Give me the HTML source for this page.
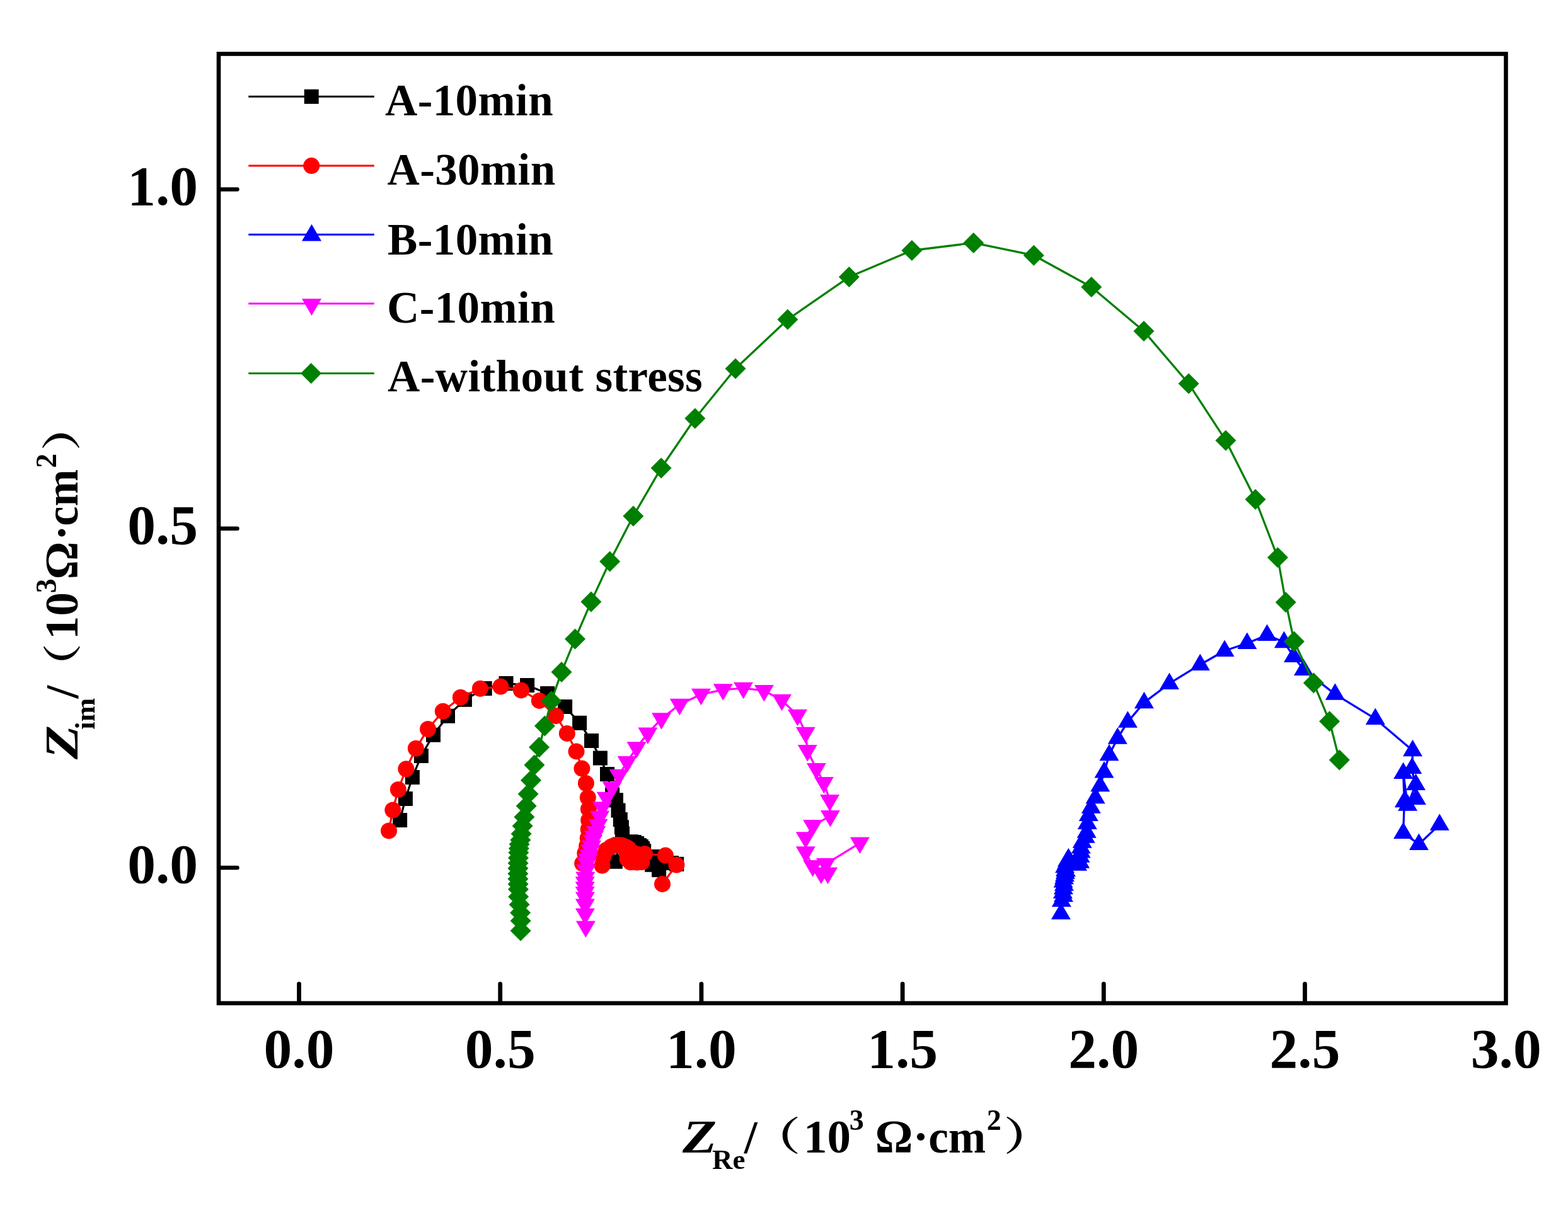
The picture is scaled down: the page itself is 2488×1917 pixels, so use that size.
<!DOCTYPE html>
<html><head><meta charset="utf-8"><title>Nyquist plot</title>
<style>
html,body{margin:0;padding:0;background:#fff;}
svg{display:block;}
text{font-family:"Liberation Serif","Noto Serif CJK SC",serif;font-weight:bold;fill:#000;}
.tk{font-size:89.5px;}
.lg{font-size:71px;letter-spacing:0.4px;}
.ti{font-size:75px;}
.sub{font-size:45px;}
.sup{font-size:46px;}
.cjk{font-family:"Noto Serif CJK SC",serif;font-weight:bold;}
</style></head>
<body>
<svg width="2488" height="1917" viewBox="0 0 2488 1917">
<rect width="2488" height="1917" fill="#fff"/>
<path d="M634.6 1301.5 L643.4 1267.5 L654.4 1233.4 L668.4 1199.5 L687.5 1166.2 L710.5 1136.2 L737.4 1110.3 L769.2 1092.5 L803 1084.6 L836.6 1087.4 L868.6 1100.4 L896.6 1121.5 L919.6 1147.3 L938.5 1175.5 L952.4 1203 L963.5 1228.4 L971.6 1261 L977.4 1269.7 L981 1286 L984.3 1300.6 L986.4 1312.8 L987.5 1323 L976.3 1367.3 L1001.3 1335.7 L1006.3 1336.4 L1010.6 1338.6 L1014.5 1341.4 L1017.3 1343.6 L1019.5 1346.4 L1021.6 1350.4 L1042 1359.6 L1065.5 1369.6 L1073.7 1371.3 L1045.6 1380.5 L1034.6 1372.3" fill="none" stroke="#000" stroke-width="3.2" stroke-linejoin="round"/>
<path d="M623.1 1290h23v23h-23zM631.9 1256h23v23h-23zM642.9 1221.9h23v23h-23zM656.9 1188h23v23h-23zM676 1154.7h23v23h-23zM699 1124.7h23v23h-23zM725.9 1098.8h23v23h-23zM757.7 1081h23v23h-23zM791.5 1073.1h23v23h-23zM825.1 1075.9h23v23h-23zM857.1 1088.9h23v23h-23zM885.1 1110h23v23h-23zM908.1 1135.8h23v23h-23zM927 1164h23v23h-23zM940.9 1191.5h23v23h-23zM952 1216.9h23v23h-23zM960.1 1249.5h23v23h-23zM965.9 1258.2h23v23h-23zM969.5 1274.5h23v23h-23zM972.8 1289.1h23v23h-23zM974.9 1301.3h23v23h-23zM976 1311.5h23v23h-23zM964.8 1355.8h23v23h-23zM989.8 1324.2h23v23h-23zM994.8 1324.9h23v23h-23zM999.1 1327.1h23v23h-23zM1003 1329.9h23v23h-23zM1005.8 1332.1h23v23h-23zM1008 1334.9h23v23h-23zM1010.1 1338.9h23v23h-23zM1030.5 1348.1h23v23h-23zM1054 1358.1h23v23h-23zM1062.2 1359.8h23v23h-23zM1034.1 1369h23v23h-23zM1023.1 1360.8h23v23h-23z" fill="#000"/>
<path d="M617 1318.4 L623.3 1285.5 L631.9 1253 L644.4 1220.3 L659.9 1187.8 L679 1157 L702.8 1128.7 L730.8 1106.8 L761.9 1092.8 L794.4 1089.5 L827 1095.4 L855.8 1111.9 L881.9 1136 L899.8 1163.9 L914.5 1192.4 L923.4 1219.6 L929.9 1243 L932.8 1265.7 L933.9 1283.9 L934.2 1301.8 L933.7 1316 L932.7 1330.3 L931.1 1342.7 L928.3 1354 L924.2 1370.2 L955.5 1373.5 L957 1360 L962 1349 L970 1343.5 L976 1341 L981 1341 L987 1341.5 L993 1344 L997.4 1346.6 L1004.9 1353.3 L994.6 1354 L995.6 1363.6 L1000.6 1368.2 L1003.9 1368 L1011 1368.5 L1018.5 1368 L1011 1355.5 L1023 1355 L1055.9 1357.6 L1073.4 1372.5 L1051 1402.9" fill="none" stroke="#f00" stroke-width="3.2" stroke-linejoin="round"/>
<g fill="#f00"><circle cx="617" cy="1318.4" r="13"/><circle cx="623.3" cy="1285.5" r="13"/><circle cx="631.9" cy="1253" r="13"/><circle cx="644.4" cy="1220.3" r="13"/><circle cx="659.9" cy="1187.8" r="13"/><circle cx="679" cy="1157" r="13"/><circle cx="702.8" cy="1128.7" r="13"/><circle cx="730.8" cy="1106.8" r="13"/><circle cx="761.9" cy="1092.8" r="13"/><circle cx="794.4" cy="1089.5" r="13"/><circle cx="827" cy="1095.4" r="13"/><circle cx="855.8" cy="1111.9" r="13"/><circle cx="881.9" cy="1136" r="13"/><circle cx="899.8" cy="1163.9" r="13"/><circle cx="914.5" cy="1192.4" r="13"/><circle cx="923.4" cy="1219.6" r="13"/><circle cx="929.9" cy="1243" r="13"/><circle cx="932.8" cy="1265.7" r="13"/><circle cx="933.9" cy="1283.9" r="13"/><circle cx="934.2" cy="1301.8" r="13"/><circle cx="933.7" cy="1316" r="13"/><circle cx="932.7" cy="1330.3" r="13"/><circle cx="931.1" cy="1342.7" r="13"/><circle cx="928.3" cy="1354" r="13"/><circle cx="924.2" cy="1370.2" r="13"/><circle cx="955.5" cy="1373.5" r="13"/><circle cx="957" cy="1360" r="13"/><circle cx="962" cy="1349" r="13"/><circle cx="970" cy="1343.5" r="13"/><circle cx="976" cy="1341" r="13"/><circle cx="981" cy="1341" r="13"/><circle cx="987" cy="1341.5" r="13"/><circle cx="993" cy="1344" r="13"/><circle cx="997.4" cy="1346.6" r="13"/><circle cx="1004.9" cy="1353.3" r="13"/><circle cx="994.6" cy="1354" r="13"/><circle cx="995.6" cy="1363.6" r="13"/><circle cx="1000.6" cy="1368.2" r="13"/><circle cx="1003.9" cy="1368" r="13"/><circle cx="1011" cy="1368.5" r="13"/><circle cx="1018.5" cy="1368" r="13"/><circle cx="1011" cy="1355.5" r="13"/><circle cx="1023" cy="1355" r="13"/><circle cx="1055.9" cy="1357.6" r="13"/><circle cx="1073.4" cy="1372.5" r="13"/><circle cx="1051" cy="1402.9" r="13"/></g>
<path d="M1683.4 1449.8 L1684.3 1429.8 L1687.5 1422 L1686.4 1416.6 L1687.4 1409.9 L1688.4 1404.5 L1687.1 1399.3 L1688.5 1394 L1689.4 1389.7 L1690.4 1385.6 L1691.4 1382.1 L1690.6 1381.1 L1689.5 1376 L1692.5 1370 L1693.5 1366 L1695.4 1363 L1709.6 1372.5 L1713.6 1368.4 L1714.1 1359.4 L1715.2 1352.3 L1715.2 1345.2 L1717.2 1336.6 L1722.2 1328.5 L1724.2 1320.5 L1725.3 1306.8 L1727.3 1293.7 L1731.3 1281.6 L1738.1 1265.9 L1745.7 1246.9 L1752 1225.3 L1760 1198.1 L1773.3 1171.5 L1789.4 1145.6 L1815.4 1114.9 L1855.5 1084.7 L1904.3 1054.7 L1943.1 1032.7 L1978.8 1020.8 L2010.5 1007.9 L2037.4 1018.9 L2052.5 1041.7 L2068.5 1062.8 L2118.4 1101.6 L2182.3 1140.7 L2241.5 1191 L2240.7 1218.7 L2247.4 1267.7 L2246.5 1244.7 L2233.6 1277.6 L2226.6 1226.7 L2228.3 1272 L2226.6 1321.8 L2251.4 1339.7 L2284.2 1308.6" fill="none" stroke="#00f" stroke-width="3.3" stroke-linejoin="round"/>
<path d="M1683.4 1432.5L1698.9 1459L1667.9 1459zM1684.3 1412.5L1699.8 1439L1668.8 1439zM1687.5 1404.8L1703 1431.2L1672 1431.2zM1686.4 1399.3L1701.9 1425.8L1670.9 1425.8zM1687.4 1392.7L1702.9 1419.2L1671.9 1419.2zM1688.4 1387.2L1703.9 1413.8L1672.9 1413.8zM1687.1 1382L1702.6 1408.5L1671.6 1408.5zM1688.5 1376.8L1704 1403.2L1673 1403.2zM1689.4 1372.5L1704.9 1399L1673.9 1399zM1690.4 1368.3L1705.9 1394.8L1674.9 1394.8zM1691.4 1364.8L1706.9 1391.3L1675.9 1391.3zM1690.6 1363.8L1706.1 1390.3L1675.1 1390.3zM1689.5 1358.8L1705 1385.2L1674 1385.2zM1692.5 1352.8L1708 1379.2L1677 1379.2zM1693.5 1348.8L1709 1375.2L1678 1375.2zM1695.4 1345.8L1710.9 1372.2L1679.9 1372.2zM1709.6 1355.2L1725.1 1381.8L1694.1 1381.8zM1713.6 1351.2L1729.1 1377.7L1698.1 1377.7zM1714.1 1342.2L1729.6 1368.7L1698.6 1368.7zM1715.2 1335L1730.7 1361.5L1699.7 1361.5zM1715.2 1328L1730.7 1354.5L1699.7 1354.5zM1717.2 1319.3L1732.7 1345.8L1701.7 1345.8zM1722.2 1311.2L1737.7 1337.8L1706.7 1337.8zM1724.2 1303.2L1739.7 1329.8L1708.7 1329.8zM1725.3 1289.5L1740.8 1316L1709.8 1316zM1727.3 1276.5L1742.8 1303L1711.8 1303zM1731.3 1264.3L1746.8 1290.8L1715.8 1290.8zM1738.1 1248.7L1753.6 1275.2L1722.6 1275.2zM1745.7 1229.7L1761.2 1256.2L1730.2 1256.2zM1752 1208L1767.5 1234.5L1736.5 1234.5zM1760 1180.8L1775.5 1207.3L1744.5 1207.3zM1773.3 1154.2L1788.8 1180.8L1757.8 1180.8zM1789.4 1128.3L1804.9 1154.8L1773.9 1154.8zM1815.4 1097.7L1830.9 1124.2L1799.9 1124.2zM1855.5 1067.5L1871 1094L1840 1094zM1904.3 1037.5L1919.8 1064L1888.8 1064zM1943.1 1015.5L1958.6 1042L1927.6 1042zM1978.8 1003.5L1994.3 1030L1963.3 1030zM2010.5 990.6L2026 1017.1L1995 1017.1zM2037.4 1001.6L2052.9 1028.2L2021.9 1028.2zM2052.5 1024.5L2068 1051L2037 1051zM2068.5 1045.5L2084 1072L2053 1072zM2118.4 1084.3L2133.9 1110.8L2102.9 1110.8zM2182.3 1123.5L2197.8 1150L2166.8 1150zM2241.5 1173.8L2257 1200.2L2226 1200.2zM2240.7 1201.5L2256.2 1228L2225.2 1228zM2247.4 1250.5L2262.9 1277L2231.9 1277zM2246.5 1227.5L2262 1254L2231 1254zM2233.6 1260.3L2249.1 1286.8L2218.1 1286.8zM2226.6 1209.5L2242.1 1236L2211.1 1236zM2228.3 1254.8L2243.8 1281.2L2212.8 1281.2zM2226.6 1304.5L2242.1 1331L2211.1 1331zM2251.4 1322.5L2266.9 1349L2235.9 1349zM2284.2 1291.3L2299.7 1317.8L2268.7 1317.8z" fill="#00f"/>
<path d="M929.4 1470.7 L928.4 1450.8 L928.4 1435.8 L928.4 1424.7 L928.2 1416.3 L928.2 1408.4 L928.2 1400.6 L928.8 1392.7 L930.1 1381 L931.5 1370.5 L933 1364 L934.7 1357.4 L936.7 1349.6 L938.6 1343 L940.6 1333.9 L942.6 1327.4 L945.8 1320.2 L949.1 1309 L951.7 1296 L955.6 1281.6 L962.2 1265.9 L971.3 1249.7 L982.1 1229.9 L995.2 1209.2 L1010 1186.4 L1027.9 1163.8 L1049.5 1140.5 L1078.3 1118 L1112.4 1102 L1147.3 1094.6 L1179.5 1092 L1212.4 1096.2 L1240.5 1111.1 L1265.4 1135.1 L1278.3 1163.1 L1281.2 1191.2 L1295.4 1220.3 L1307.4 1242.2 L1316.6 1270.2 L1317.4 1295.2 L1289.6 1310.2 L1278.3 1329.5 L1278.3 1352.4 L1289.6 1374.2 L1302.9 1385.7 L1313.5 1385.7 L1310.4 1371.1 L1364.4 1337.8" fill="none" stroke="#f0f" stroke-width="3.2" stroke-linejoin="round"/>
<path d="M913.9 1461.5L944.9 1461.5L929.4 1488zM912.9 1441.5L943.9 1441.5L928.4 1468zM912.9 1426.5L943.9 1426.5L928.4 1453zM912.9 1415.5L943.9 1415.5L928.4 1442zM912.7 1407L943.7 1407L928.2 1433.5zM912.7 1399.2L943.7 1399.2L928.2 1425.7zM912.7 1391.3L943.7 1391.3L928.2 1417.8zM913.3 1383.5L944.3 1383.5L928.8 1410zM914.6 1371.8L945.6 1371.8L930.1 1398.2zM916 1361.2L947 1361.2L931.5 1387.8zM917.5 1354.8L948.5 1354.8L933 1381.2zM919.2 1348.2L950.2 1348.2L934.7 1374.7zM921.2 1340.3L952.2 1340.3L936.7 1366.8zM923.1 1333.8L954.1 1333.8L938.6 1360.2zM925.1 1324.7L956.1 1324.7L940.6 1351.2zM927.1 1318.2L958.1 1318.2L942.6 1344.7zM930.3 1311L961.3 1311L945.8 1337.5zM933.6 1299.8L964.6 1299.8L949.1 1326.2zM936.2 1286.8L967.2 1286.8L951.7 1313.2zM940.1 1272.3L971.1 1272.3L955.6 1298.8zM946.7 1256.7L977.7 1256.7L962.2 1283.2zM955.8 1240.5L986.8 1240.5L971.3 1267zM966.6 1220.7L997.6 1220.7L982.1 1247.2zM979.7 1200L1010.7 1200L995.2 1226.5zM994.5 1177.2L1025.5 1177.2L1010 1203.7zM1012.4 1154.5L1043.4 1154.5L1027.9 1181zM1034 1131.2L1065 1131.2L1049.5 1157.8zM1062.8 1108.8L1093.8 1108.8L1078.3 1135.2zM1096.9 1092.8L1127.9 1092.8L1112.4 1119.2zM1131.8 1085.3L1162.8 1085.3L1147.3 1111.8zM1164 1082.8L1195 1082.8L1179.5 1109.2zM1196.9 1087L1227.9 1087L1212.4 1113.5zM1225 1101.8L1256 1101.8L1240.5 1128.3zM1249.9 1125.8L1280.9 1125.8L1265.4 1152.3zM1262.8 1153.8L1293.8 1153.8L1278.3 1180.3zM1265.7 1182L1296.7 1182L1281.2 1208.5zM1279.9 1211L1310.9 1211L1295.4 1237.5zM1291.9 1233L1322.9 1233L1307.4 1259.5zM1301.1 1261L1332.1 1261L1316.6 1287.5zM1301.9 1286L1332.9 1286L1317.4 1312.5zM1274.1 1301L1305.1 1301L1289.6 1327.5zM1262.8 1320.2L1293.8 1320.2L1278.3 1346.8zM1262.8 1343.2L1293.8 1343.2L1278.3 1369.7zM1274.1 1365L1305.1 1365L1289.6 1391.5zM1287.4 1376.5L1318.4 1376.5L1302.9 1403zM1298 1376.5L1329 1376.5L1313.5 1403zM1294.9 1361.8L1325.9 1361.8L1310.4 1388.3zM1348.9 1328.5L1379.9 1328.5L1364.4 1355z" fill="#f0f"/>
<path d="M826.1 1477.1 L826.1 1461.3 L825.6 1448.5 L824.1 1435.5 L822.6 1423 L822.4 1411.3 L822.1 1403 L821.9 1394.7 L821.9 1386.4 L821.9 1378.1 L822.1 1369.8 L822.4 1361.4 L822.8 1353.1 L823.3 1346.5 L824.1 1339.8 L825.8 1333.1 L827.1 1323.2 L829.1 1310.7 L831.9 1296.5 L835.1 1279.1 L838.1 1259.9 L842.5 1238.3 L847.9 1214 L855.5 1185.7 L864.4 1151.9 L874.8 1112.5 L891 1066.4 L912.5 1014.1 L937.9 955.1 L967.6 891 L1004.8 819.1 L1049.1 742.7 L1102.8 664 L1167 585 L1249.8 507 L1347.3 439.6 L1446.9 397.5 L1544.7 385.4 L1640.3 405.2 L1731.8 455.5 L1815 525.6 L1886.1 608.8 L1944.9 698.9 L1992 792.5 L2027.4 884.7 L2040.2 955.8 L2053.4 1017.9 L2084.3 1083.8 L2109.6 1144.7 L2125.3 1206.1" fill="none" stroke="#008000" stroke-width="3.3" stroke-linejoin="round"/>
<path d="M826.1 1460.6L842.6 1477.1L826.1 1493.6L809.6 1477.1zM826.1 1444.8L842.6 1461.3L826.1 1477.8L809.6 1461.3zM825.6 1432L842.1 1448.5L825.6 1465L809.1 1448.5zM824.1 1419L840.6 1435.5L824.1 1452L807.6 1435.5zM822.6 1406.5L839.1 1423L822.6 1439.5L806.1 1423zM822.4 1394.8L838.9 1411.3L822.4 1427.8L805.9 1411.3zM822.1 1386.5L838.6 1403L822.1 1419.5L805.6 1403zM821.9 1378.2L838.4 1394.7L821.9 1411.2L805.4 1394.7zM821.9 1369.9L838.4 1386.4L821.9 1402.9L805.4 1386.4zM821.9 1361.6L838.4 1378.1L821.9 1394.6L805.4 1378.1zM822.1 1353.3L838.6 1369.8L822.1 1386.3L805.6 1369.8zM822.4 1344.9L838.9 1361.4L822.4 1377.9L805.9 1361.4zM822.8 1336.6L839.3 1353.1L822.8 1369.6L806.3 1353.1zM823.3 1330L839.8 1346.5L823.3 1363L806.8 1346.5zM824.1 1323.3L840.6 1339.8L824.1 1356.3L807.6 1339.8zM825.8 1316.6L842.3 1333.1L825.8 1349.6L809.3 1333.1zM827.1 1306.7L843.6 1323.2L827.1 1339.7L810.6 1323.2zM829.1 1294.2L845.6 1310.7L829.1 1327.2L812.6 1310.7zM831.9 1280L848.4 1296.5L831.9 1313L815.4 1296.5zM835.1 1262.6L851.6 1279.1L835.1 1295.6L818.6 1279.1zM838.1 1243.4L854.6 1259.9L838.1 1276.4L821.6 1259.9zM842.5 1221.8L859 1238.3L842.5 1254.8L826 1238.3zM847.9 1197.5L864.4 1214L847.9 1230.5L831.4 1214zM855.5 1169.2L872 1185.7L855.5 1202.2L839 1185.7zM864.4 1135.4L880.9 1151.9L864.4 1168.4L847.9 1151.9zM874.8 1096L891.3 1112.5L874.8 1129L858.3 1112.5zM891 1049.9L907.5 1066.4L891 1082.9L874.5 1066.4zM912.5 997.6L929 1014.1L912.5 1030.6L896 1014.1zM937.9 938.6L954.4 955.1L937.9 971.6L921.4 955.1zM967.6 874.5L984.1 891L967.6 907.5L951.1 891zM1004.8 802.6L1021.3 819.1L1004.8 835.6L988.3 819.1zM1049.1 726.2L1065.6 742.7L1049.1 759.2L1032.6 742.7zM1102.8 647.5L1119.3 664L1102.8 680.5L1086.3 664zM1167 568.5L1183.5 585L1167 601.5L1150.5 585zM1249.8 490.5L1266.3 507L1249.8 523.5L1233.3 507zM1347.3 423.1L1363.8 439.6L1347.3 456.1L1330.8 439.6zM1446.9 381L1463.4 397.5L1446.9 414L1430.4 397.5zM1544.7 368.9L1561.2 385.4L1544.7 401.9L1528.2 385.4zM1640.3 388.7L1656.8 405.2L1640.3 421.7L1623.8 405.2zM1731.8 439L1748.3 455.5L1731.8 472L1715.3 455.5zM1815 509.1L1831.5 525.6L1815 542.1L1798.5 525.6zM1886.1 592.3L1902.6 608.8L1886.1 625.3L1869.6 608.8zM1944.9 682.4L1961.4 698.9L1944.9 715.4L1928.4 698.9zM1992 776L2008.5 792.5L1992 809L1975.5 792.5zM2027.4 868.2L2043.9 884.7L2027.4 901.2L2010.9 884.7zM2040.2 939.3L2056.7 955.8L2040.2 972.3L2023.7 955.8zM2053.4 1001.4L2069.9 1017.9L2053.4 1034.4L2036.9 1017.9zM2084.3 1067.3L2100.8 1083.8L2084.3 1100.3L2067.8 1083.8zM2109.6 1128.2L2126.1 1144.7L2109.6 1161.2L2093.1 1144.7zM2125.3 1189.6L2141.8 1206.1L2125.3 1222.6L2108.8 1206.1z" fill="#008000"/>
<rect x="347" y="85.5" width="2042.5" height="1506.5" fill="none" stroke="#000" stroke-width="6.6"/>
<line x1="474.5" y1="1590" x2="474.5" y2="1561.5" stroke="#000" stroke-width="6.8" stroke-linecap="round"/>
<line x1="793.7" y1="1590" x2="793.7" y2="1561.5" stroke="#000" stroke-width="6.8" stroke-linecap="round"/>
<line x1="1112.9" y1="1590" x2="1112.9" y2="1561.5" stroke="#000" stroke-width="6.8" stroke-linecap="round"/>
<line x1="1432.1" y1="1590" x2="1432.1" y2="1561.5" stroke="#000" stroke-width="6.8" stroke-linecap="round"/>
<line x1="1751.3" y1="1590" x2="1751.3" y2="1561.5" stroke="#000" stroke-width="6.8" stroke-linecap="round"/>
<line x1="2070.5" y1="1590" x2="2070.5" y2="1561.5" stroke="#000" stroke-width="6.8" stroke-linecap="round"/>
<line x1="348" y1="1377" x2="376.5" y2="1377" stroke="#000" stroke-width="6.4" stroke-linecap="round"/>
<line x1="348" y1="838.8" x2="376.5" y2="838.8" stroke="#000" stroke-width="6.4" stroke-linecap="round"/>
<line x1="348" y1="300.5" x2="376.5" y2="300.5" stroke="#000" stroke-width="6.4" stroke-linecap="round"/>
<text x="474.5" y="1694" class="tk" text-anchor="middle">0.0</text>
<text x="793.7" y="1694" class="tk" text-anchor="middle">0.5</text>
<text x="1112.9" y="1694" class="tk" text-anchor="middle">1.0</text>
<text x="1432.1" y="1694" class="tk" text-anchor="middle">1.5</text>
<text x="1751.3" y="1694" class="tk" text-anchor="middle">2.0</text>
<text x="2070.5" y="1694" class="tk" text-anchor="middle">2.5</text>
<text x="2389.7" y="1694" class="tk" text-anchor="middle">3.0</text>
<text x="314" y="1401" class="tk" text-anchor="end">0.0</text>
<text x="314" y="862.8" class="tk" text-anchor="end">0.5</text>
<text x="314" y="324.5" class="tk" text-anchor="end">1.0</text>
<line x1="394.3" y1="153.3" x2="593.8" y2="153.3" stroke="#000" stroke-width="3"/>
<path d="M482.7 141.8h23v23h-23z" fill="#000"/>
<line x1="394.3" y1="263.1" x2="593.8" y2="263.1" stroke="#f00" stroke-width="3"/>
<circle cx="494.2" cy="263.1" r="13.0" fill="#f00"/>
<line x1="394.3" y1="372.2" x2="593.8" y2="372.2" stroke="#00f" stroke-width="3"/>
<path d="M494.5 355.8L510 382.6L479 382.6z" fill="#00f"/>
<line x1="394.3" y1="481.8" x2="593.8" y2="481.8" stroke="#f0f" stroke-width="3"/>
<path d="M479 474.1L510 474.1L494.5 500.9z" fill="#f0f"/>
<line x1="394.3" y1="592.4" x2="593.8" y2="592.4" stroke="#008000" stroke-width="3"/>
<path d="M493.6 575.9L510.1 592.4L493.6 608.9L477.1 592.4z" fill="#008000"/>
<text x="611.0" y="183.1" class="lg">A-10min</text>
<text x="614.5" y="292.9" class="lg">A-30min</text>
<text x="615.0" y="403.5" class="lg">B-10min</text>
<text x="614.0" y="512.4" class="lg">C-10min</text>
<text x="615.0" y="621.0" class="lg">A-without stress</text>
<text transform="translate(1083 1829) scale(1.18 1)" class="ti" font-style="italic">Z</text>
<text x="1129.9" y="1854.7" class="ti sub">Re</text>
<text x="1180.8" y="1829.5" class="ti">/</text>
<text transform="translate(1190.8 1826.2) scale(1.06 0.832)" class="ti cjk">（</text>
<text x="1275" y="1829" class="ti">10</text>
<text x="1347.8" y="1793" class="ti sup">3</text>
<text x="1388.4" y="1829" class="ti">Ω</text>
<text x="1448.6" y="1829" class="ti">·</text>
<text x="1473.2" y="1829" class="ti" textLength="91" lengthAdjust="spacingAndGlyphs">cm</text>
<text x="1565.8" y="1793" class="ti sup">2</text>
<text transform="translate(1592.4 1826.2) scale(1.06 0.832)" class="ti cjk">）</text>
<text transform="translate(123.2 1205) rotate(-90) scale(1.18 1)" class="ti" font-style="italic">Z</text>
<text transform="rotate(-90)" x="-1157.7" y="149.8" class="ti sub">im</text>
<text transform="rotate(-90)" x="-1108.4" y="124.2" class="ti">/</text>
<text transform="translate(121.1 1094.4) rotate(-90) scale(0.977 0.8155)" class="ti cjk">（</text>
<text transform="rotate(-90)" x="-1015" y="123.2" class="ti">10</text>
<text transform="rotate(-90)" x="-941.3" y="88.5" class="ti sup">3</text>
<text transform="rotate(-90)" x="-919.5" y="123.2" class="ti">Ω</text>
<text transform="rotate(-90)" x="-858" y="123.2" class="ti">·</text>
<text transform="rotate(-90)" x="-834.8" y="123.2" class="ti" textLength="90" lengthAdjust="spacingAndGlyphs">cm</text>
<text transform="rotate(-90)" x="-742.8" y="89.2" class="ti sup">2</text>
<text transform="translate(121.4 715.6) rotate(-90) scale(1.036 0.83)" class="ti cjk">）</text>
</svg>
</body></html>
